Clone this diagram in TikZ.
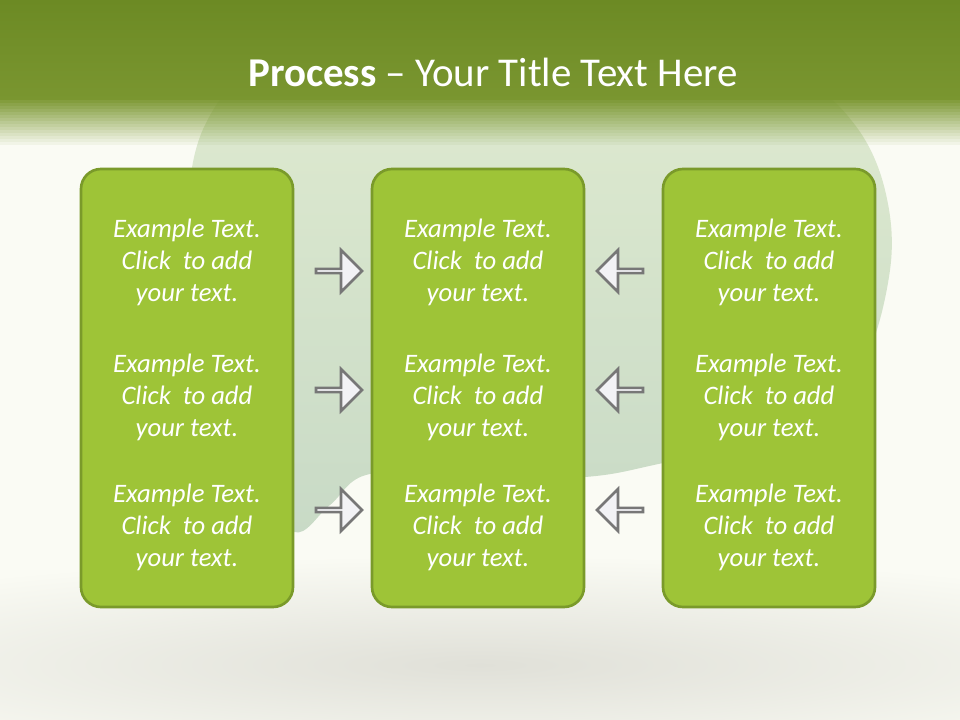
\documentclass[tikz,border=0pt]{standalone}
\usepackage{fontspec}
\setmainfont{Carlito}
\usetikzlibrary{shapes.arrows}
\definecolor{pagebg}{HTML}{FAFBF4}
\definecolor{headgreen}{HTML}{6C8A24}
\definecolor{headlight}{HTML}{7A9630}
\definecolor{boxfill}{HTML}{9EC437}
\definecolor{boxline}{HTML}{7A9A2A}
\definecolor{sagelight}{HTML}{E0EBD0}
\definecolor{sagedark}{HTML}{C8DAC6}
\definecolor{arrowfill}{HTML}{F2F2F5}
\definecolor{arrowline}{HTML}{777777}
\definecolor{shadowgray}{HTML}{E0E0D8}
\tikzset{
  column/.style={draw=boxline, line width=2pt, fill=boxfill, rounded corners=15pt,
    minimum width=159pt, minimum height=328.5pt, inner sep=0pt},
  blurb/.style={text=white, align=center, inner sep=0pt,
    font=\fontsize{20}{24}\selectfont\itshape},
  pointer/.style={single arrow, draw=arrowline, line width=2pt, fill=arrowfill,
    minimum width=31.5pt, minimum height=34.5pt, single arrow head extend=9pt,
    inner sep=0pt, outer sep=0pt}
}
\begin{document}
\begin{tikzpicture}[x=0.75pt, y=-0.75pt]
			%%%%% START %%%%%
			
			\fill[pagebg] (0,0) rectangle (960,720);
			\useasboundingbox (0,0) rectangle (960,720);
			
			% soft shadow under the columns
			\shade[inner color=shadowgray, outer color=pagebg] (480,665) ellipse (820 and 110);
			
			% backdrop blob
			\shade[top color=sagelight, bottom color=sagedark] plot[smooth cycle, tension=0.6] coordinates {
				(250,75) (205,125) (188,200) (190,300) (215,400) (255,480) (294,532) (330,505)
				(370,474) (470,478) (585,477) (663,463) (793,433) (860,370) (890,270) (885,190)
				(855,125) (800,80) (680,45) (500,40) (350,50)};
			
			% header band
			\shade[top color=headgreen, bottom color=headlight] (0,0) rectangle (960,100);
			\foreach \i in {0,...,14}
				\fill[headlight, fill opacity={0.93-\i*0.062}] (0,{100+3*\i}) rectangle (960,{103+3*\i});
			
			\node[text=white, anchor=base, font=\fontsize{30.7}{36}\selectfont] (title) at (493,87)
				{\textbf{Process} – Your Title Text Here};
			
			% columns and their texts
			\foreach \cx/\nm in {187/L, 478/M, 769/R} {
				\node[column] (col\nm) at (\cx,388) {};
				\foreach \cy/\k in {262/1, 397/2, 527/3}
					\node[blurb] (txt\nm\k) at (\cx,\cy) {Example Text.\\Click\ \ to add\\your text.};
			}
			
			% block arrows
			\foreach \ay/\k in {271/1, 390/2, 510/3} {
				\node[pointer] (inL\k) at (338,\ay) {};
				\node[pointer, shape border rotate=180] (inR\k) at (621,\ay) {};
			}
			
			%%%%% END %%%%%
\end{tikzpicture}
\end{document}
